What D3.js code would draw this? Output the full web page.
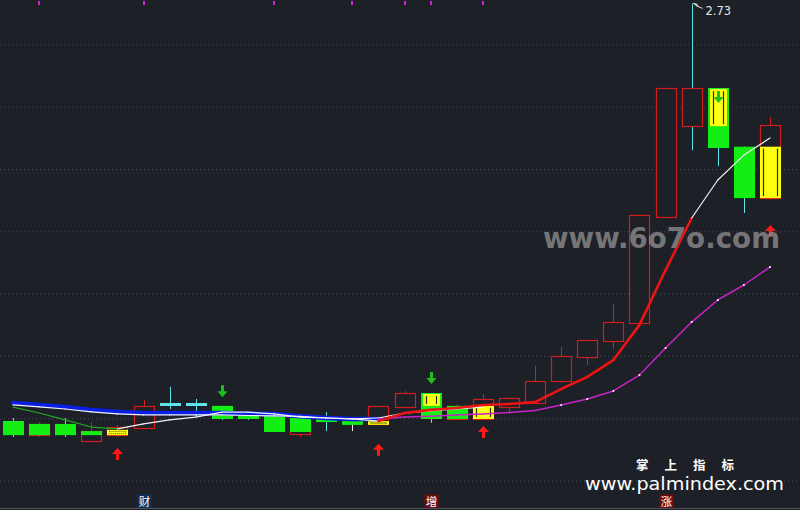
<!DOCTYPE html>
<html><head><meta charset="utf-8">
<script src="https://cdn.jsdelivr.net/npm/d3@7"></script>
<style>html,body{margin:0;padding:0;background:#1d2027;}svg{display:block;}</style>
</head><body><svg id="c" width="800" height="510"></svg>
<script>
// ---------- data (prices) ----------
const openP  = [1.389,1.344,1.380,1.325,1.344,1.367,1.447,1.447,1.438,1.412,1.405,1.348,1.399,1.383,1.380,1.434,1.479,1.396,1.396,1.434,1.447,1.518,1.595,1.646,1.704,2.044,2.336,2.458,2.270,2.105];
const highP  = [1.399,1.386,1.399,1.386,1.377,1.457,1.499,1.460,1.438,1.418,1.409,1.399,1.418,1.389,1.438,1.486,1.479,1.444,1.476,1.466,1.566,1.627,1.649,1.765,2.051,2.458,2.730,2.458,2.270,2.365];
const lowP   = [1.338,1.338,1.338,1.325,1.338,1.367,1.428,1.405,1.393,1.393,1.354,1.338,1.357,1.357,1.377,1.434,1.383,1.396,1.396,1.415,1.447,1.511,1.569,1.621,1.704,2.044,2.259,2.208,2.057,2.099];
const closeP = [1.344,1.380,1.344,1.357,1.370,1.438,1.438,1.438,1.396,1.396,1.354,1.399,1.396,1.383,1.438,1.479,1.396,1.438,1.460,1.462,1.518,1.598,1.649,1.707,2.051,2.458,2.458,2.266,2.105,2.340];
// indicator overlay bars: [top, bottom] or null
const greenBar = [[1.389,1.344],[1.380,1.344],[1.380,1.344],[1.357,1.344],null,null,null,null,[1.438,1.396],[1.412,1.396],[1.405,1.354],[1.399,1.354],[1.399,1.386],[1.389,1.377],null,null,[1.479,1.396],[1.438,1.396],null,null,null,null,null,null,null,null,null,[2.458,2.266],[2.270,2.105],null];
const yellowBar = [null,null,null,null,[1.361,1.344],null,null,null,null,null,null,null,null,null,[1.389,1.377],null,[1.479,1.438],null,[1.438,1.396],null,null,null,null,null,null,null,null,[2.458,2.336],null,[2.270,2.105]];
// moving averages
const ma5 = [1.434,1.415,1.393,1.370,1.364,1.380,1.393,1.402,1.418,1.418,1.412,1.402,1.399,1.396,1.389,1.415,1.425,1.431,1.441,1.444,1.450,1.492,1.531,1.585,1.698,1.874,2.041,2.163,2.243,2.298];
const ma5Trend = [-1,-1,-1,-1,-1, 0,0,0,0,0,0,0,0,0,0, 1,1,1,1,1,1,1,1,1,1,1,1, 0,0,0];
const ma10 = [1.441,1.435,1.428,1.419,1.412,1.409,1.409,1.409,1.409,1.407,1.406,1.404,1.399,1.396,1.399,1.415,1.422,1.428,1.434,null,null,null,null,null,null,null,null,null,null,null];
const maLong = [1.447,1.441,1.434,1.425,1.418,1.415,1.415,1.415,1.415,1.413,1.412,1.405,1.399,1.396,1.396,1.402,1.405,1.409,1.412,1.417,1.423,1.441,1.460,1.486,1.537,1.624,1.707,1.778,1.826,1.884];
// signals
const buyIdx = [4,14,18,29];
const buyAt  = [1.303,1.316,1.373,2.019];
const sellIdx = [8,16,27];
const sellAt  = [1.466,1.508,2.410];
const topMarkIdx = [1,5,10,13,15,16,18];
const tagIdx  = [5,16,25];
const tagText = ["财","增","涨"];
const tagKind = ["blue","red","red"];
const gridTicks = [1.2,1.4,1.6,1.8,2.0,2.2,2.4,2.6];
const maxLabel = "2.73";
const maxIdx = 26;

// ---------- drawing ----------
const W = 800, H = 510;
const BG = "#1d2027", RED = "#d21d1d", CYAN = "#5ce4ea", GREEN = "#14ee14", YEL = "#ffff14";
const svg = d3.select("#c");
svg.append("rect").attr("width", W).attr("height", H).attr("fill", BG);

const n = openP.length;
const x = d3.scalePoint().domain(d3.range(n)).range([13, 770]);
const y = d3.scaleLinear().domain([1.2, 2.6]).range([480, 43.9]);
const bw = 20;

// grid
const gAxis = svg.append("g")
  .call(d3.axisRight(y).tickValues(gridTicks).tickSize(W).tickFormat(""));
gAxis.select(".domain").remove();
gAxis.selectAll("line").attr("stroke", "#4a4f5a").attr("stroke-dasharray", "1,3")
  .attr("transform", "translate(0,0.5)");
svg.append("line").attr("x1", 0).attr("x2", W).attr("y1", 508.5).attr("y2", 508.5).attr("stroke", "#4b505b");

const cx = i => Math.round(x(i));
const candles = svg.append("g");
d3.range(n).forEach(i => {
  const o = openP[i], c = closeP[i];
  const up = c > o, flat = c === o;
  let wickCol = (i > 0 && c > closeP[i-1]) ? RED : CYAN;
  if (flat) wickCol = "#f0f0f0";
  const xc = cx(i) + 0.5;
  candles.append("line").attr("x1", xc).attr("x2", xc)
    .attr("y1", y(highP[i])).attr("y2", y(lowP[i])).attr("stroke", wickCol).attr("stroke-width", 1);
  const top = y(Math.max(o, c)), bot = y(Math.min(o, c));
  if (up) {
    candles.append("rect").attr("x", cx(i) - bw/2 + 0.5).attr("y", Math.round(top) + 0.5)
      .attr("width", bw).attr("height", Math.max(1, Math.round(bot) - Math.round(top)))
      .attr("fill", BG).attr("stroke", RED).attr("stroke-width", 1.2);
  } else if (flat) {
    candles.append("line").attr("x1", cx(i) - bw/2).attr("x2", cx(i) + bw/2)
      .attr("y1", Math.round(top) + 0.5).attr("y2", Math.round(top) + 0.5).attr("stroke", "#f0f0f0");
  } else {
    candles.append("rect").attr("x", cx(i) - bw/2).attr("y", Math.round(top))
      .attr("width", bw + 1).attr("height", Math.max(2, Math.round(bot) - Math.round(top)))
      .attr("fill", CYAN);
  }
});

// overlays
const ov = svg.append("g");
d3.range(n).forEach(i => {
  const g = greenBar[i], yb = yellowBar[i];
  const left = cx(i) - bw/2, w = bw + 1;
  if (g) {
    ov.append("rect").attr("x", left).attr("y", y(g[0])).attr("width", w)
      .attr("height", Math.max(2, y(g[1]) - y(g[0]))).attr("fill", GREEN);
  }
  if (yb) {
    const inset = g ? 2 : 0;
    const t = y(yb[0]) + (g ? 1 : 0), hh = Math.max(2, y(yb[1]) - y(yb[0]) - (g ? 1 : 0));
    ov.append("rect").attr("x", left + inset).attr("y", t).attr("width", w - 2*inset)
      .attr("height", hh).attr("fill", YEL);
    if (hh > 8) {
      [left + inset + 3.5, left + w - inset - 3.5].forEach(xx => {
        ov.append("line").attr("x1", xx).attr("x2", xx).attr("y1", t + 2).attr("y2", t + hh - 2)
          .attr("stroke", "#2b2b14").attr("stroke-width", 1.2);
      });
    } else {
      ov.append("rect").attr("x", left + inset + 2.5).attr("y", t + 1.5)
        .attr("width", w - 2*inset - 5).attr("height", Math.max(1, hh - 3))
        .attr("fill", "none").attr("stroke", "#2b2b14").attr("stroke-width", 0.8)
        .attr("stroke-dasharray", "1,1");
    }
  }
});

// moving-average lines
const lines = svg.append("g").attr("fill", "none").attr("stroke-linecap", "round").attr("stroke-linejoin", "round");
const seg = (arr, i, col, w) => {
  if (arr[i-1] == null || arr[i] == null) return;
  lines.append("line").attr("x1", x(i-1)).attr("y1", y(arr[i-1])).attr("x2", x(i)).attr("y2", y(arr[i]))
    .attr("stroke", col).attr("stroke-width", w);
};
for (let i = 1; i < n; i++) {
  if (!(maLong[i] > maLong[i-1])) seg(maLong, i, "#0a1ee6", 4.5);
}
for (let i = 1; i < n; i++) seg(ma10, i, "#f2f2f2", 1.2);
for (let i = 1; i < n; i++) {
  if (maLong[i] > maLong[i-1]) seg(maLong, i, "#c724c7", 1.5);
}
d3.range(21, n).forEach(i => {
  lines.append("circle").attr("cx", x(i)).attr("cy", y(maLong[i])).attr("r", 1).attr("fill", "#ffffff");
});
for (let i = 1; i < n; i++) {
  const t = ma5Trend[i];
  if (t < 0) seg(ma5, i, "#22a822", 1.2);
  else if (t > 0) seg(ma5, i, "#ec1414", 2.6);
  else seg(ma5, i, "#f2f2f2", 1.2);
}

// arrows
const arrows = svg.append("g");
buyIdx.forEach((idx, k) => {
  const xc = cx(idx) + 0.5, ty = y(buyAt[k]);
  arrows.append("path").attr("d", `M${xc},${ty} L${xc+5.5},${ty+6} L${xc+1.5},${ty+6} L${xc+1.5},${ty+12} L${xc-1.5},${ty+12} L${xc-1.5},${ty+6} L${xc-5.5},${ty+6} Z`)
    .attr("fill", "#ff1a1a");
});
sellIdx.forEach((idx, k) => {
  const xc = cx(idx) + 0.5, ty = y(sellAt[k]);
  arrows.append("path").attr("d", `M${xc},${ty} L${xc+5},${ty-6} L${xc+1.5},${ty-6} L${xc+1.5},${ty-12} L${xc-1.5},${ty-12} L${xc-1.5},${ty-6} L${xc-5},${ty-6} Z`)
    .attr("fill", "#1fbf1f");
});

// top magenta marks
topMarkIdx.forEach(i => {
  svg.append("rect").attr("x", cx(i) - 1).attr("y", 1).attr("width", 2).attr("height", 4).attr("fill", "#d81ed8");
});

// max label
const mx = cx(maxIdx) + 0.5, my = y(highP[maxIdx]);
svg.append("path").attr("d", `M${mx+6},${my+3} L${mx+1},${my} L${mx+5},${my+1}`).attr("fill", "none")
  .attr("stroke", "#e8e8e8").attr("stroke-width", 1);
svg.append("path").attr("d", `M${mx+3},${my+2} L${mx+10},${my+5}`).attr("stroke", "#e8e8e8").attr("stroke-width", 1);
svg.append("text").attr("x", mx + 13).attr("y", my + 12).attr("fill", "#e6e6e6")
  .attr("font-family", "'DejaVu Sans', sans-serif").attr("font-size", 11.5).text(maxLabel);

// bottom tags
tagIdx.forEach((idx, k) => {
  const xc = cx(idx) + 0.5;
  svg.append("rect").attr("x", xc - 7).attr("y", 494.5).attr("width", 14).attr("height", 13.5)
    .attr("fill", tagKind[k] === "blue" ? "#0e2f5c" : "#6d0c0c");
  svg.append("text").attr("x", xc).attr("y", 505.5).attr("text-anchor", "middle")
    .attr("fill", "#ffffff").attr("font-size", 11.5)
    .attr("font-family", "'Noto Sans CJK SC', sans-serif").text(tagText[k]);
});

// watermarks
svg.append("text").attr("x", 543).attr("y", 248).attr("fill", "#8e8e8e").attr("opacity", 0.78)
  .attr("font-family", "'DejaVu Sans', sans-serif").attr("font-weight", "bold").attr("font-size", 29)
  .attr("textLength", 237).attr("lengthAdjust", "spacingAndGlyphs").text("www.6o7o.com");
svg.append("text").attr("x", 636).attr("y", 469.5).attr("fill", "#ffffff")
  .attr("font-family", "'Noto Sans CJK SC', sans-serif").attr("font-weight", "bold").attr("font-size", 12.5)
  .attr("textLength", 98).attr("lengthAdjust", "spacing").text("掌上指标");
svg.append("text").attr("x", 585).attr("y", 489.5).attr("fill", "#ffffff")
  .attr("font-family", "'DejaVu Sans', sans-serif").attr("font-size", 18)
  .attr("textLength", 199).attr("lengthAdjust", "spacingAndGlyphs").text("www.palmindex.com");
</script></body></html>
